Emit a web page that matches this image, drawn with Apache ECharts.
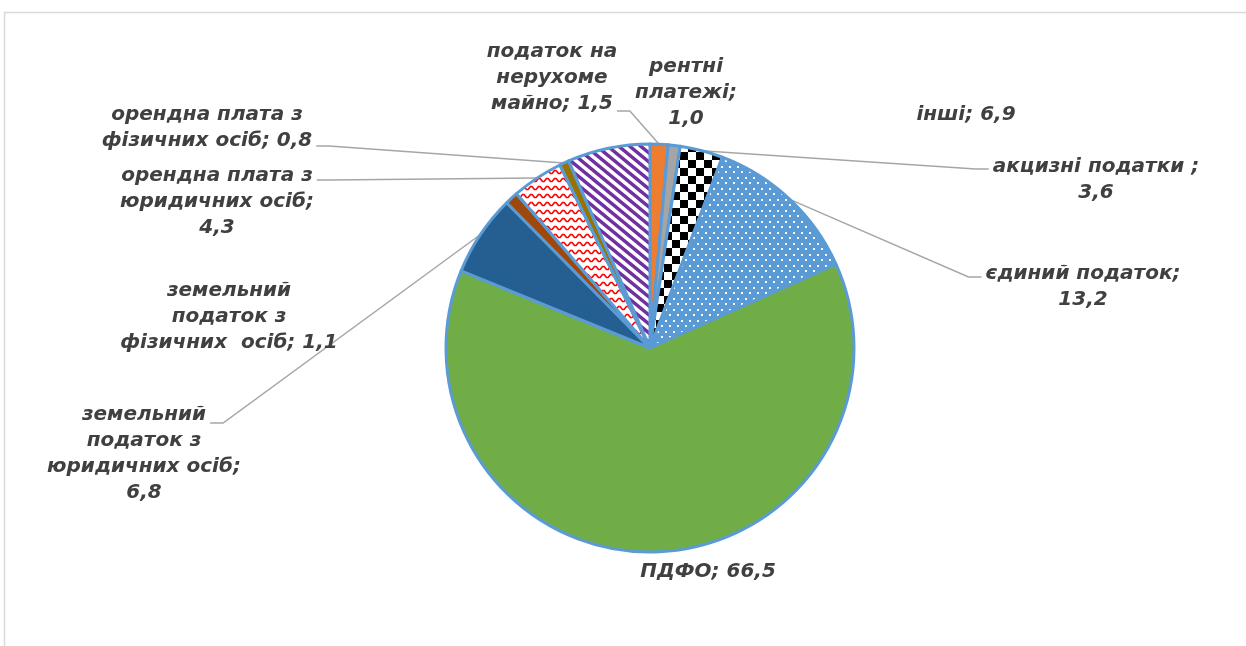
<!DOCTYPE html>
<html>
<head>
<meta charset="utf-8">
<script src="https://cdn.jsdelivr.net/npm/echarts@6/dist/echarts.min.js"></script>
<style>
html,body{margin:0;padding:0;background:#fff;}
#main{width:1246px;height:646px;}
</style>
</head>
<body>
<div id="main"></div>
<script>
// ---- data ----
var categories = [
  'податок на\nнерухоме\nмайно',
  'рентні\nплатежі',
  'акцизні податки ',
  'єдиний податок',
  'ПДФО',
  'земельний\nподаток з\nюридичних осіб',
  'земельний\nподаток з\nфізичних  осіб',
  'орендна плата з\nюридичних осіб',
  'орендна плата з\nфізичних осіб',
  'інші'
];
var values = [1.5, 1.0, 3.6, 13.2, 66.5, 6.8, 1.1, 4.3, 0.8, 6.9];
var valueSeparators = ['; ', ';\n', ';\n', ';\n', '; ', ';\n', '; ', ';\n', '; ', '; '];

// ---- layout ----
// label block centres (px)
var labelPos = [
  [552, 78], [686, 93], [1096, 180], [1083, 287], [708, 572],
  [144, 454], [229, 317], [217, 202], [207, 128], [966, 115]
];
// leader attachment: [text line index, side, vertical offset] or null (no leader)
var leaderAttach = [
  [2, 'right', 7], null, [0, 'left', 2], [0, 'left', 3], null,
  [0, 'right', 8], null, [0, 'right', 4], [1, 'right', 5], null
];
var FONT_SIZE = 20, LINE_H = 26, FONT_FAMILY = 'DejaVu Sans';

// ---- patterns ----
function makeCanvas(w, h, bg) {
  var c = document.createElement('canvas');
  c.width = w; c.height = h;
  var ctx = c.getContext('2d');
  ctx.fillStyle = bg; ctx.fillRect(0, 0, w, h);
  return [c, ctx];
}
function checker() {
  var r = makeCanvas(16, 16, '#ffffff'), ctx = r[1];
  ctx.fillStyle = '#000000';
  ctx.fillRect(0, 0, 8, 8); ctx.fillRect(8, 8, 8, 8);
  return r[0];
}
function dots() {
  var r = makeCanvas(8, 11, '#5b9bd5'), ctx = r[1];
  ctx.fillStyle = '#ffffff';
  ctx.fillRect(1, 1, 2, 2); ctx.fillRect(5, 6, 2, 2);
  return r[0];
}
function zigzag() {
  var r = makeCanvas(8, 8, '#ffffff'), ctx = r[1];
  ctx.strokeStyle = '#ff0000'; ctx.lineWidth = 1.7;
  ctx.beginPath();
  ctx.moveTo(-2, 5.5); ctx.lineTo(0, 5.5); ctx.lineTo(2.5, 2.5); ctx.lineTo(4, 2.5); ctx.lineTo(6.5, 5.5); ctx.lineTo(10, 5.5);
  ctx.stroke();
  return r[0];
}
function stripes() {
  var w = 11, h = 9;
  var r = makeCanvas(w, h, '#ffffff'), ctx = r[1];
  ctx.strokeStyle = '#7030a0'; ctx.lineWidth = 3.4;
  for (var k = -1; k <= 1; k++) {
    ctx.beginPath();
    ctx.moveTo(k * w - w, -h); ctx.lineTo(k * w + 2 * w, 2 * h);
    ctx.stroke();
  }
  return r[0];
}
var sliceColors = [
  '#ed7d31',
  '#a5a5a5',
  {image: checker(), repeat: 'repeat'},
  {image: dots(), repeat: 'repeat'},
  '#70ad47',
  '#255e91',
  '#9e480e',
  {image: zigzag(), repeat: 'repeat'},
  '#997300',
  {image: stripes(), repeat: 'repeat'}
];

function fmt(v) { return v.toFixed(1).replace('.', ','); }
function labelText(i) { return categories[i] + valueSeparators[i] + fmt(values[i]); }

var measureCtx = document.createElement('canvas').getContext('2d');
measureCtx.font = 'italic bold ' + FONT_SIZE + 'px "' + FONT_FAMILY + '"';

var seriesData = categories.map(function (name, i) {
  return {
    name: name,
    value: values[i],
    itemStyle: {color: sliceColors[i]},
    labelLine: {show: leaderAttach[i] !== null}
  };
});

var chart = echarts.init(document.getElementById('main'), null, {renderer: 'canvas'});
chart.setOption({
  animation: false,
  backgroundColor: '#ffffff',
  graphic: [{
    type: 'rect',
    shape: {x: 4.5, y: 12.5, width: 1400, height: 800},
    style: {fill: 'none', stroke: '#d9d9d9', lineWidth: 1.5},
    silent: true, z: -1
  }],
  series: [{
    type: 'pie',
    center: [650, 348],
    radius: 204,
    startAngle: 90,
    clockwise: true,
    avoidLabelOverlap: false,
    data: seriesData,
    itemStyle: {borderColor: '#5b9bd5', borderWidth: 3},
    emphasis: {disabled: true},
    label: {
      show: true,
      position: 'outside',
      color: '#404040',
      fontFamily: FONT_FAMILY,
      fontWeight: 'bold',
      fontStyle: 'italic',
      fontSize: FONT_SIZE,
      lineHeight: LINE_H,
      align: 'center',
      formatter: function (p) { return labelText(p.dataIndex); }
    },
    labelLine: {
      show: true,
      length: 10,
      length2: 12,
      lineStyle: {color: '#a6a6a6', width: 1.5}
    },
    labelLayout: function (p) {
      var i = p.dataIndex;
      var pos = labelPos[i];
      var res = {x: pos[0], y: pos[1], align: 'center', verticalAlign: 'middle'};
      var att = leaderAttach[i];
      if (att && p.labelLinePoints) {
        var lines = labelText(i).split('\n');
        var n = lines.length;
        var lineW = measureCtx.measureText(lines[att[0]]).width;
        var ly = pos[1] + (att[0] - (n - 1) / 2) * LINE_H + att[2];
        var sign = att[1] === 'right' ? 1 : -1;
        var ex = pos[0] + sign * (lineW / 2 + 4);
        var start = p.labelLinePoints[0];
        res.labelLinePoints = [
          [start[0], start[1]],
          [ex + sign * 13, ly],
          [ex, ly]
        ];
      }
      return res;
    }
  }]
});
</script>
</body>
</html>
